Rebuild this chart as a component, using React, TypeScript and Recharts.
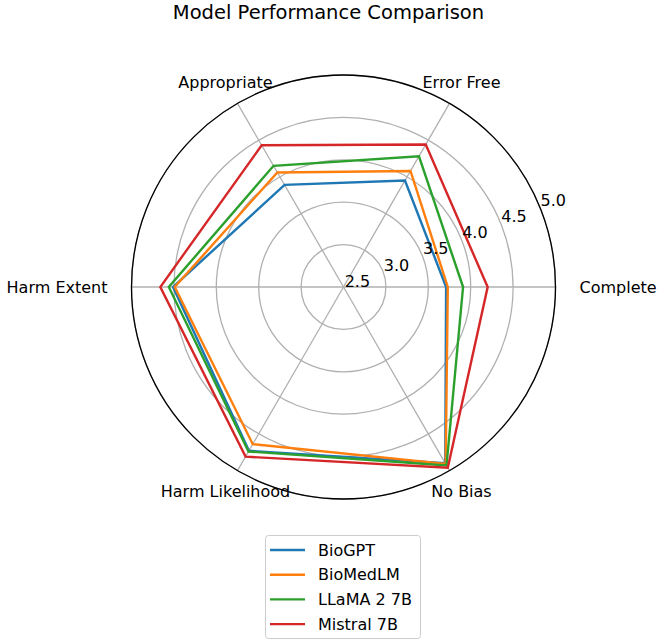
import React from "react";
import {
  RadarChart,
  Radar,
  PolarGrid,
  PolarAngleAxis,
  PolarRadiusAxis,
  Legend,
} from "recharts";

const CATEGORIES = [
  "Complete",
  "Error Free",
  "Appropriate",
  "Harm Extent",
  "Harm Likelihood",
  "No Bias",
];
const BIOGPT = [3.71, 3.95, 3.89, 4.51, 4.73, 4.9];
const BIOMEDLM = [3.73, 4.08, 4.06, 4.49, 4.64, 4.91];
const LLAMA = [3.91, 4.28, 4.15, 4.56, 4.74, 4.93];
const MISTRAL = [4.2, 4.44, 4.43, 4.66, 4.81, 4.96];
const RADIUS_TICKS = [2.5, 3.0, 3.5, 4.0, 4.5, 5.0];

const SERIES = [
  { key: "biogpt", name: "BioGPT", values: BIOGPT, color: "#1f77b4" },
  { key: "biomedlm", name: "BioMedLM", values: BIOMEDLM, color: "#ff7f0e" },
  { key: "llama", name: "LLaMA 2 7B", values: LLAMA, color: "#2ca02c" },
  { key: "mistral", name: "Mistral 7B", values: MISTRAL, color: "#d62728" },
];

const data = CATEGORIES.map((c, i) => {
  const row: Record<string, string | number> = { axis: c };
  SERIES.forEach((s) => (row[s.key] = s.values[i]));
  return row;
});

const W = 657;
const H = 641;
const CX = 343.5;
const CY = 287;
const OUTER = 212;
const FONT = "DejaVu Sans, sans-serif";
const RAD = Math.PI / 180;
const STEP = 360 / CATEGORIES.length;

// label angle taken from the category order (Complete on the right, counter-clockwise)
function AngleTick(props: any) {
  const { payload } = props;
  const idx = CATEGORIES.indexOf(payload.value);
  const a = idx * STEP * RAD;
  const r = OUTER + 24;
  const x = CX + r * Math.cos(a);
  const y = CY - r * Math.sin(a);
  const c = Math.cos(a);
  const anchor = c > 0.9 ? "start" : c < -0.9 ? "end" : "middle";
  return (
    <text
      x={x}
      y={y}
      textAnchor={anchor}
      dominantBaseline="central"
      fontSize={16}
      fontFamily={FONT}
      fill="#000"
    >
      {payload.value}
    </text>
  );
}

function RadiusTick(props: any) {
  const { x, y, payload } = props;
  const a = 22.5 * RAD;
  const off = 15;
  return (
    <text
      x={x + off * Math.cos(a)}
      y={y - off * Math.sin(a)}
      textAnchor="middle"
      dominantBaseline="central"
      fontSize={16}
      fontFamily={FONT}
      fill="#000"
    >
      {payload.value.toFixed(1)}
    </text>
  );
}

function LegendBox(props: any) {
  const items = props.payload?.length
    ? props.payload.map((p: any) => ({ name: p.value, color: p.color }))
    : SERIES;
  return (
    <svg width={157} height={105} style={{ display: "block" }}>
      <rect
        x={0.5}
        y={0.5}
        width={155}
        height={103}
        rx={3}
        fill="#fff"
        stroke="#cccccc"
      />
      {items.map((it: any, i: number) => {
        const y = 15 + i * 24.7;
        return (
          <g key={it.name}>
            <line x1={5} x2={40} y1={y} y2={y} stroke={it.color} strokeWidth={2.4} />
            <text
              x={53}
              y={y}
              dominantBaseline="central"
              fontSize={16}
              fontFamily={FONT}
              fill="#000"
            >
              {it.name}
            </text>
          </g>
        );
      })}
    </svg>
  );
}

export default function App() {
  return (
    <div style={{ position: "relative", width: W, height: H, background: "#fff" }}>
      <style>{"body{margin:0}"}</style>
      <div
        style={{
          position: "absolute",
          top: 1,
          left: 0,
          width: W,
          textAlign: "center",
          fontFamily: FONT,
          fontSize: 19.5,
          lineHeight: "24px",
        }}
      >
        Model Performance Comparison
      </div>
      <RadarChart
        width={W}
        height={H}
        data={data}
        cx={CX}
        cy={CY}
        outerRadius={OUTER}
        innerRadius={0}
        startAngle={-60}
        endAngle={300}
        margin={{ top: 0, right: 0, bottom: 0, left: 0 }}
      >
        <PolarGrid gridType="circle" stroke="#b0b0b0" strokeWidth={1.3} />
        <PolarGrid
          gridType="circle"
          polarRadius={[OUTER]}
          radialLines={false}
          stroke="#000"
          strokeWidth={1.3}
        />
        <PolarAngleAxis
          dataKey="axis"
          tick={<AngleTick />}
          tickLine={false}
          axisLine={false}
        />
        <PolarRadiusAxis
          angle={22.5}
          domain={[2.5, 5]}
          ticks={RADIUS_TICKS}
          type="number"
          tick={<RadiusTick />}
          tickLine={false}
          axisLine={false}
          allowDataOverflow
        />
        {SERIES.map((s) => (
          <Radar
            key={s.key}
            name={s.name}
            dataKey={s.key}
            stroke={s.color}
            strokeWidth={2.4}
            fill="none"
            fillOpacity={0}
            dot={false}
            isAnimationActive={false}
          />
        ))}
        <Legend
          content={<LegendBox />}
          wrapperStyle={{ position: "absolute", left: 265, top: 535, width: 157 }}
        />
      </RadarChart>
    </div>
  );
}
